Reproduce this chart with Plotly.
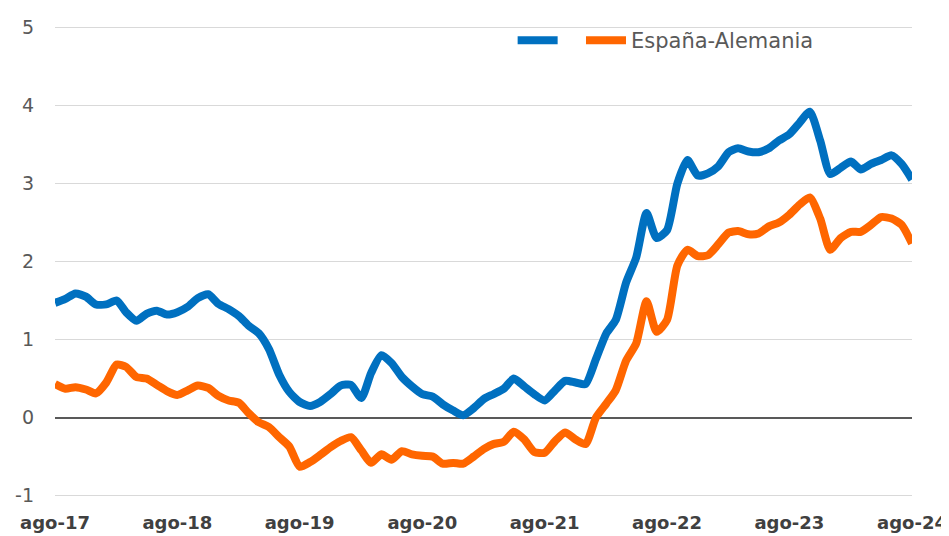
import pandas as pd
import plotly.graph_objects as go

# Monthly data, Aug-2017 .. Aug-2024
dates = pd.date_range("2017-08-01", periods=85, freq="MS")

espana = [
    1.47, 1.52, 1.59, 1.55, 1.45, 1.45, 1.50, 1.35, 1.24, 1.33,
    1.37, 1.32, 1.35, 1.42, 1.53, 1.58, 1.46, 1.39, 1.30, 1.18,
    1.08, 0.88, 0.55, 0.33, 0.20, 0.15, 0.20, 0.30, 0.41, 0.42,
    0.25, 0.57, 0.80, 0.70, 0.52, 0.40, 0.30, 0.27, 0.17, 0.09,
    0.03, 0.12, 0.24, 0.30, 0.37, 0.50, 0.40, 0.30, 0.22, 0.35,
    0.47, 0.45, 0.43, 0.75, 1.08, 1.25, 1.73, 2.05, 2.62, 2.30,
    2.40, 3.00, 3.30, 3.10, 3.13, 3.22, 3.40, 3.45, 3.41, 3.40,
    3.45, 3.55, 3.63, 3.78, 3.92, 3.55, 3.12, 3.20, 3.28, 3.18,
    3.25, 3.30, 3.36, 3.25, 3.05,
]

alemania = [
    0.43, 0.37, 0.39, 0.36, 0.31, 0.45, 0.68, 0.65, 0.52, 0.50,
    0.42, 0.34, 0.29, 0.35, 0.41, 0.38, 0.28, 0.22, 0.19, 0.06,
    -0.06, -0.12, -0.25, -0.37, -0.63, -0.57, -0.48, -0.38, -0.30, -0.25,
    -0.42, -0.58, -0.47, -0.54, -0.43, -0.47, -0.49, -0.50, -0.59, -0.58,
    -0.59, -0.50, -0.40, -0.34, -0.31, -0.18, -0.28, -0.44, -0.45, -0.30,
    -0.19, -0.28, -0.34, 0.00, 0.18, 0.35, 0.73, 0.95, 1.49, 1.10,
    1.25, 1.95, 2.15, 2.07, 2.08, 2.22, 2.37, 2.39, 2.35, 2.36,
    2.45, 2.50, 2.60, 2.73, 2.82, 2.55, 2.15, 2.30, 2.38, 2.38,
    2.47, 2.57, 2.55, 2.47, 2.23,
]

tick_dates = pd.date_range("2017-08-01", "2024-08-01", freq="12MS")
tick_labels = ["ago-17", "ago-18", "ago-19", "ago-20", "ago-21", "ago-22", "ago-23", "ago-24"]
y_ticks = [-1, 0, 1, 2, 3, 4, 5]
y_labels = ["-1", "0", "1", "2", "3", "4", "5"]

BLUE = "#0070C0"
ORANGE = "#FF6600"
FONT = "DejaVu Sans, Verdana, sans-serif"

fig = go.Figure()
fig.add_trace(go.Scatter(
    x=dates, y=espana, mode="lines", name="\u00a0\u00a0",
    line=dict(color=BLUE, width=8, shape="spline", smoothing=0.6),
))
fig.add_trace(go.Scatter(
    x=dates, y=alemania, mode="lines", name="España-Alemania",
    line=dict(color=ORANGE, width=8, shape="spline", smoothing=0.6),
))

# page body has an 8px margin, so the figure is sized to fit the window
fig.update_layout(
    width=941, height=528,
    margin=dict(l=47, r=37, t=15, b=38),
    paper_bgcolor="white", plot_bgcolor="white",
    font=dict(family=FONT, size=18, color="#595959"),
    showlegend=True,
    legend=dict(
        orientation="h", x=0.534, y=0.967, xanchor="left", yanchor="middle",
        bgcolor="rgba(0,0,0,0)", font=dict(size=21, color="#595959"),
        itemwidth=40, tracegroupgap=0,
    ),
)

fig.update_xaxes(
    range=[dates[0], dates[-1]],
    tickvals=tick_dates, ticktext=tick_labels,
    tickfont=dict(family=FONT, size=18, color="#404040", weight="bold"),
    showgrid=False, showline=False, zeroline=False, ticks="",
    ticklabelstandoff=12, automargin=False,
)
fig.update_yaxes(
    range=[-1.03, 5.03], tickvals=y_ticks, ticktext=y_labels,
    tickfont=dict(family=FONT, size=19, color="#595959"),
    showgrid=True, gridcolor="#D9D9D9", gridwidth=1,
    zeroline=True, zerolinecolor="#595959", zerolinewidth=2,
    showline=False, ticks="", ticklabelstandoff=20, automargin=False,
)

fig.write_html("out.html")
